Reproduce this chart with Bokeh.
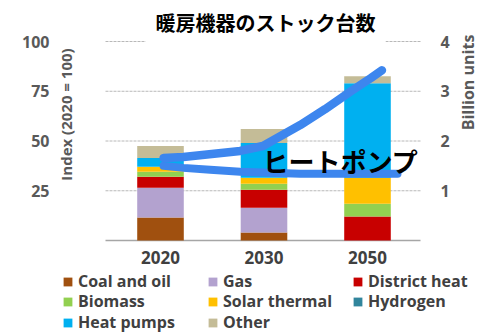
import math
from bokeh.plotting import figure
from bokeh.models import (ColumnDataSource, Range1d, Label, Legend, LegendItem)
from bokeh.core.properties import value
from bokeh.embed import file_html
from bokeh.resources import INLINE

# ---------------- data ----------------
years = ["2020", "2030", "2050"]
year_pos = [0, 1, 2]

coal_oil = [11.5, 4.0, 0.0]
gas = [15.0, 12.5, 0.0]
district_heat = [5.5, 9.0, 12.0]
biomass = [2.5, 3.0, 6.5]
solar_thermal = [2.5, 3.0, 13.0]
hydrogen = [0.0, 0.0, 0.0]
heat_pumps = [4.5, 17.5, 47.5]
other = [6.0, 7.0, 3.5]

series_names = ["Coal and oil", "Gas", "District heat", "Biomass",
                "Solar thermal", "Hydrogen", "Heat pumps", "Other"]
series_colors = ["#A0500F", "#B3A2CF", "#C80000", "#92D050",
                 "#FFC000", "#31859C", "#00B0F0", "#C4BC97"]

# heat-pump stock curves (billion units)
hp_upper_x = [0.03, 0.22, 0.77, 0.99, 1.35, 1.59, 1.84, 2.03, 2.14]
hp_upper_y = [1.66, 1.68, 1.80, 1.90, 2.32, 2.64, 3.00, 3.26, 3.42]
hp_lower_x = [0.03, 0.22, 0.48, 0.77, 1.35, 2.29]
hp_lower_y = [1.50, 1.46, 1.42, 1.38, 1.34, 1.34]

index_ticks = [25, 50, 75, 100]
index_tick_labels = ["25", "50", "75", "100"]
billion_ticks = [1, 2, 3, 4]
billion_tick_labels = ["1", "2", "3", "4"]

title_text = "暖房機器のストック台数"
callout_text = "ヒートポンプ"
left_axis_title = "Index (2020 = 100)"
right_axis_title = "Billion units"

# ---------------- layout constants ----------------
FONT = "Open Sans"
JP = "Noto Sans CJK JP"
PX_X = 103.5          # pixels per category step
PX_Y = 1.99           # pixels per index point
X0_PX, Y0_PX = 160, 240   # pixel position of (first bar, zero)
W, H = 480, 333

def ux(px):
    return (px - X0_PX) / PX_X

def uy(py):
    return (Y0_PX - py) / PX_Y

p = figure(width=W, height=H, output_backend="svg", toolbar_location=None,
           x_range=Range1d(ux(0), ux(W)), y_range=Range1d(uy(H), uy(0)),
           x_axis_location=None, y_axis_location=None,
           min_border=0, min_border_left=0, min_border_right=0,
           min_border_top=0, min_border_bottom=0)
p.outline_line_color = None
p.background_fill_color = "white"
p.border_fill_color = "white"
p.xgrid.visible = False
p.ygrid.visible = False
p.extra_y_ranges = {"b": Range1d(uy(H) / 25.0, uy(0) / 25.0)}

plot_x0, plot_x1 = ux(105), ux(420)

# gridlines (dashed) and zero baseline
p.segment(x0=plot_x0, x1=plot_x1, y0=index_ticks, y1=index_ticks,
          line_color="#B8B8B8", line_dash="3 1", line_width=1)
p.segment(x0=plot_x0, x1=plot_x1, y0=0, y1=0, line_color="#A6A6A6", line_width=1.5)

# stacked bars
keys = ["coal_oil", "gas", "district_heat", "biomass", "solar_thermal",
        "hydrogen", "heat_pumps", "other"]
src = ColumnDataSource(dict(x=year_pos, coal_oil=coal_oil, gas=gas,
                            district_heat=district_heat, biomass=biomass,
                            solar_thermal=solar_thermal, hydrogen=hydrogen,
                            heat_pumps=heat_pumps, other=other))
bars = p.vbar_stack(keys, x="x", width=0.45, color=series_colors, source=src,
                    line_color=None)

# heat pump curves (right axis, billion units)
p.line(hp_lower_x, hp_lower_y, y_range_name="b", line_color="#3D86EE",
       line_width=8, line_cap="round", line_join="round")
p.line(hp_upper_x, hp_upper_y, y_range_name="b", line_color="#3D86EE",
       line_width=8.5, line_cap="round", line_join="round")

# tick labels
p.text(x=ux(49), y=index_ticks, text=index_tick_labels, text_font=value(FONT),
       text_font_size="16px", text_font_style="bold", text_color="#595959",
       text_align="right", text_baseline="middle")
p.text(x=ux(440), y=billion_ticks, text=billion_tick_labels, y_range_name="b",
       text_font=value(FONT), text_font_size="16px", text_font_style="bold",
       text_color="#595959", text_align="left", text_baseline="middle")
p.text(x=year_pos, y=uy(257), text=years, text_font=value(FONT),
       text_font_size="17px", text_font_style="bold", text_color="#404040",
       text_align="center", text_baseline="middle")

# axis titles
p.add_layout(Label(x=ux(65), y=uy(114), text=left_axis_title, angle=math.pi / 2,
                   text_font=FONT, text_font_size="15px", text_font_style="bold",
                   text_color="#595959", text_align="center", text_baseline="middle"))
p.add_layout(Label(x=ux(467), y=uy(82), text=right_axis_title, angle=math.pi / 2,
                   text_font=FONT, text_font_size="16px", text_font_style="bold",
                   text_color="#595959", text_align="center", text_baseline="middle"))

# callout text
p.add_layout(Label(x=ux(262), y=uy(160), text=callout_text, text_font=JP,
                   text_font_size="26px", text_font_style="bold",
                   text_color="#000000", text_align="left",
                   text_baseline="middle"))

# title (white box hides the 100 gridline behind it)
p.add_layout(Label(x=ux(265), y=uy(22), text=title_text, text_font=JP,
                   text_font_size="20px", text_font_style="bold",
                   text_color="#000000", text_align="center",
                   text_baseline="middle", background_fill_color="white",
                   padding=10))

# legends, one per row
rows = [[0, 1, 2], [3, 4, 5], [6, 7]]
row_bottom_px = [292, 312, 333]
for r, bpx in zip(rows, row_bottom_px):
    lg = Legend(items=[LegendItem(label=series_names[i], renderers=[bars[i]]) for i in r],
                location=(62, H - bpx), orientation="horizontal",
                glyph_width=11, glyph_height=11, label_standoff=5,
                label_width=129, label_height=20, spacing=0, padding=0, margin=0,
                border_line_color=None, background_fill_alpha=0,
                label_text_font=FONT, label_text_font_size="16px",
                label_text_font_style="bold",
                label_text_color="#404040")
    p.add_layout(lg, "center")

open("out.html", "w").write(file_html(p, INLINE))
